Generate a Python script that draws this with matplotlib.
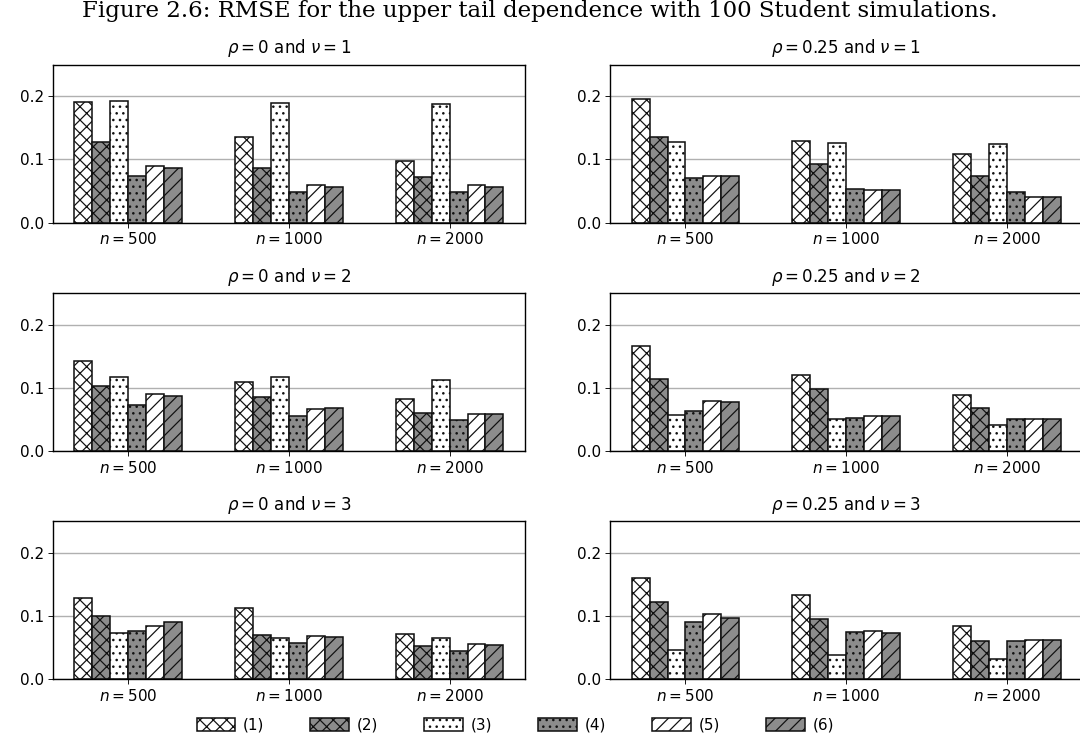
import matplotlib
matplotlib.use("Agg")
import matplotlib.pyplot as plt
import numpy as np

# sample sizes on the x axis
sizes = ["$n = 500$", "$n = 1000$", "$n = 2000$"]
methods = ["(1)", "(2)", "(3)", "(4)", "(5)", "(6)"]

# RMSE per panel, one row per sample size, one column per method
rmse_r0_v1 = [[0.191, 0.127, 0.193, 0.074, 0.090, 0.086],
              [0.135, 0.086, 0.189, 0.049, 0.060, 0.057],
              [0.097, 0.072, 0.188, 0.049, 0.060, 0.056]]
rmse_r25_v1 = [[0.195, 0.136, 0.128, 0.070, 0.074, 0.074],
               [0.129, 0.093, 0.126, 0.053, 0.051, 0.052],
               [0.108, 0.074, 0.124, 0.049, 0.041, 0.040]]
rmse_r0_v2 = [[0.143, 0.103, 0.118, 0.073, 0.090, 0.088],
              [0.110, 0.085, 0.117, 0.055, 0.067, 0.069],
              [0.082, 0.060, 0.113, 0.050, 0.058, 0.058]]
rmse_r25_v2 = [[0.166, 0.114, 0.057, 0.064, 0.080, 0.077],
               [0.120, 0.098, 0.051, 0.052, 0.056, 0.056],
               [0.089, 0.069, 0.042, 0.051, 0.051, 0.051]]
rmse_r0_v3 = [[0.128, 0.100, 0.073, 0.076, 0.085, 0.090],
              [0.113, 0.070, 0.065, 0.058, 0.069, 0.067],
              [0.071, 0.052, 0.066, 0.044, 0.056, 0.055]]
rmse_r25_v3 = [[0.160, 0.123, 0.046, 0.091, 0.104, 0.097],
               [0.133, 0.096, 0.039, 0.075, 0.076, 0.074],
               [0.084, 0.061, 0.032, 0.061, 0.062, 0.062]]

panels = [
    (r"$\rho = 0$ and $\nu = 1$", rmse_r0_v1),
    (r"$\rho = 0.25$ and $\nu = 1$", rmse_r25_v1),
    (r"$\rho = 0$ and $\nu = 2$", rmse_r0_v2),
    (r"$\rho = 0.25$ and $\nu = 2$", rmse_r25_v2),
    (r"$\rho = 0$ and $\nu = 3$", rmse_r0_v3),
    (r"$\rho = 0.25$ and $\nu = 3$", rmse_r25_v3),
]

fills = ["white", "#8c8c8c", "white", "#8c8c8c", "white", "#8c8c8c"]
hatches = ["xx", "xx", "..", "..", "//", "//"]

# figure drawn at 80 dpi so the hatch spacing matches the reference
plt.rcParams['font.size'] = 13.75
plt.rcParams['hatch.linewidth'] = 1.1
plt.rcParams['xtick.major.size'] = 4.5
plt.rcParams['ytick.major.size'] = 4.5

fig = plt.figure(figsize=(13.5, 9.275), dpi=80)
lefts = [0.049, 0.565]
bottoms = [0.700, 0.392, 0.0845]
w, h = 0.437, 0.213

x = np.arange(len(sizes))
bw = 0.67 / len(methods)
handles = []
for k, (title, vals) in enumerate(panels):
    ax = fig.add_axes([lefts[k % 2], bottoms[k // 2], w, h])
    vals = np.array(vals)
    for j in range(len(methods)):
        b = ax.bar(x - 0.335 + bw * (j + 0.5), vals[:, j], bw, color=fills[j],
                   edgecolor="#111111", hatch=hatches[j], linewidth=1.4, label=methods[j])
        if k == 0:
            handles.append(b)
    ax.set_ylim(0, 0.25)
    ax.set_yticks([0.0, 0.1, 0.2])
    ax.set_xticks(x)
    ax.set_xticklabels(sizes)
    ax.yaxis.grid(True, color="#b0b0b0", linewidth=1.25)
    ax.set_axisbelow(True)
    for s in ax.spines.values():
        s.set_linewidth(1.25)
    ax.set_title(title, fontsize=15, pad=10)

fig.suptitle("Figure 2.6: RMSE for the upper tail dependence with 100 Student simulations.",
             family="DejaVu Serif", fontsize=20.6, y=1.0)
fig.legend(handles=handles, labels=methods, loc="lower center", ncol=6, frameon=False,
           bbox_to_anchor=(0.477, -0.006), handlelength=2.55, handleheight=0.95,
           handletextpad=0.5, columnspacing=3.0)

fig.savefig("out.png", dpi=80)
